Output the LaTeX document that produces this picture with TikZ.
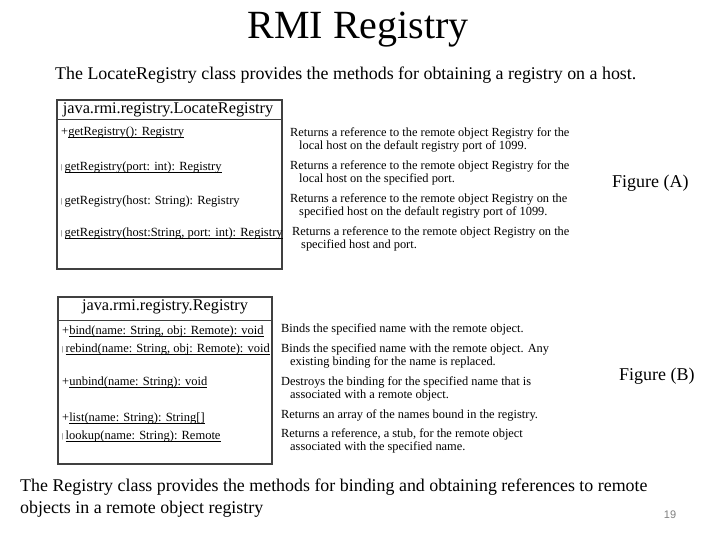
\documentclass[tikz,border=0pt]{standalone}
\usepackage{fontspec}
\setmainfont{Liberation Serif}
\setsansfont{Liberation Sans}
\begin{document}
\begin{tikzpicture}[x=1pt,y=-1pt,
  umlbox/.style={draw=black!75,line width=1.1pt,fill=white,inner sep=0pt},
  divider/.style={draw=black!75,line width=1pt},
  meth/.style={anchor=west,inner sep=0pt,font=\fontsize{12.5}{13}\selectfont},
  desc/.style={anchor=north west,inner sep=0pt,align=left,font=\fontsize{12.4}{13}\selectfont},
  hdr/.style={inner sep=0pt,font=\fontsize{16.3}{18}\selectfont},
  body/.style={inner sep=0pt,font=\fontsize{17.9}{22}\selectfont},
  fig/.style={anchor=west,inner sep=0pt,font=\fontsize{18}{20}\selectfont}]
\newcommand{\tick}{{\fontsize{7}{7}\selectfont\raisebox{1pt}{|}}}
\newcommand{\ulm}[1]{\underline{\smash{#1}}}
\useasboundingbox (0,0) rectangle (720,540);
\fill[white] (0,0) rectangle (720,540);
% title
\node[inner sep=0pt,font=\fontsize{40}{44}\selectfont] (title) at (358,30) {RMI Registry};
\node[body,anchor=west] (sub) at (55,75) {The LocateRegistry class provides the methods for obtaining a registry on a host.};
% box A
\node[umlbox,minimum width=225,minimum height=169] (boxA) at (169.5,184.5) {};
\draw[divider] (boxA.west |- 0,120) -- (boxA.east |- 0,120);
\node[hdr] (hA) at (168,110) {java.rmi.registry.LocateRegistry};
\node[meth] (a1) at (61,133) {+\ulm{getRegistry(): Registry}};
\node[meth] (a2) at (61,169) {\tick\,\ulm{getRegistry(port: int): Registry}};
\node[meth] (a3) at (61,202) {\tick\,getRegistry(host: String): Registry};
\node[meth] (a4) at (61,235) {\tick\,\ulm{getRegistry(host:String, port: int): Registry}};
\node[desc] (da1) at (290,128) {Returns a reference to the remote object Registry for the\\\hspace*{9pt}local host on the default registry port of 1099.};
\node[desc] (da2) at (290,161) {Returns a reference to the remote object Registry for the\\\hspace*{9pt}local host on the specified port.};
\node[desc] (da3) at (290,194) {Returns a reference to the remote object Registry on the\\\hspace*{9pt}specified host on the default registry port of 1099.};
\node[desc] (da4) at (292,227) {Returns a reference to the remote object Registry on the\\\hspace*{9pt}specified host and port.};
\node[fig] (figA) at (612,183) {Figure (A)};
% box B
\node[umlbox,minimum width=214,minimum height=167] (boxB) at (165,380.5) {};
\draw[divider] (boxB.west |- 0,320) -- (boxB.east |- 0,320);
\node[hdr] (hB) at (165,307) {java.rmi.registry.Registry};
\node[meth] (b1) at (62,332) {+\ulm{bind(name: String, obj: Remote): void}};
\node[meth] (b2) at (62,351) {\tick\,\ulm{rebind(name: String, obj: Remote): void}};
\node[meth] (b3) at (62,383) {+\ulm{unbind(name: String): void}};
\node[meth] (b4) at (62,419) {+\ulm{list(name: String): String[]}};
\node[meth] (b5) at (62,438) {\tick\,\ulm{lookup(name: String): Remote}};
\node[desc] (db1) at (281,324) {Binds the specified name with the remote object.};
\node[desc] (db2) at (281,344) {Binds the specified name with the remote object. Any\\\hspace*{9pt}existing binding for the name is replaced.};
\node[desc] (db3) at (281,377) {Destroys the binding for the specified name that is\\\hspace*{9pt}associated with a remote object.};
\node[desc] (db4) at (281,410) {Returns an array of the names bound in the registry.};
\node[desc] (db5) at (281,429) {Returns a reference, a stub, for the remote object\\\hspace*{9pt}associated with the specified name.};
\node[fig] (figB) at (619,376) {Figure (B)};
% bottom
\node[body,anchor=north west,align=left] (bot) at (20,479) {The Registry class provides the methods for binding and obtaining references to remote\\objects in a remote object registry};
\node[inner sep=0pt,text=black!50,font=\sffamily\fontsize{11}{12}\selectfont] (pg) at (670,515) {19};
\end{tikzpicture}
\end{document}
